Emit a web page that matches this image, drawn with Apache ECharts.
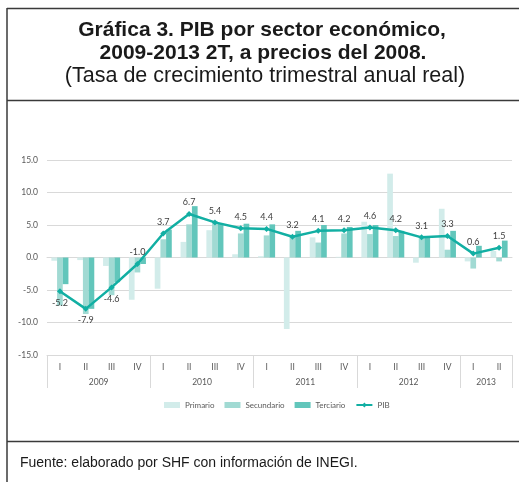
<!DOCTYPE html>
<html><head><meta charset="utf-8">
<script src="https://cdn.jsdelivr.net/npm/echarts@6/dist/echarts.min.js"></script>
<style>html,body{margin:0;padding:0;background:#fff}#c{width:519px;height:482px}</style>
</head><body><div id="c"></div>
<script>
const quarters = ['I','II','III','IV','I','II','III','IV','I','II','III','IV','I','II','III','IV','I','II'];
const years = ['2009','2010','2011','2012','2013'];
const quartersPerYear = [4,4,4,4,2];
const primario   = [-0.5,-0.4,-1.3,-6.5,-4.8,2.4,4.2,0.5,0.2,-11.0,3.1,0.1,5.5,12.9,-0.8,7.5,-0.6,1.0];
const secundario = [-7.4,-8.7,-5.8,-2.3,2.8,5.1,5.6,3.7,3.4,3.3,2.3,3.7,3.6,3.3,3.2,1.2,-1.7,-0.6];
const terciario  = [-4.1,-7.9,-3.8,-1.0,4.3,7.9,5.2,5.2,5.1,4.1,5.0,4.7,5.0,4.1,3.1,4.1,1.8,2.6];
const pib        = [-5.2,-7.9,-4.6,-1.0,3.7,6.7,5.4,4.5,4.4,3.2,4.1,4.2,4.6,4.2,3.1,3.3,0.6,1.5];
const yMin = -15, yMax = 15, yStep = 5;

// year axis built on half-quarter slots
const nSlots = quarters.length * 2;
const yearSlots = new Array(nSlots + 1).fill('');
const yearLabelIdx = new Set(), yearTickIdx = new Set([0, nSlots]);
let cum = 0;
years.forEach((y, i) => {
  const mid = cum * 2 + quartersPerYear[i];
  yearSlots[mid] = y; yearLabelIdx.add(mid);
  yearTickIdx.add(cum * 2);
  cum += quartersPerYear[i];
});

const C = {prim:'#d2ecea', sec:'#a1dad3', ter:'#62c6bb', pib:'#12afa3', grid:'#d9d9d9', txt:'#595959'};
const chart = echarts.init(document.getElementById('c'));
const F = '"Liberation Sans", Arial, sans-serif';
const CF = 'Lato, "Open Sans", sans-serif';

chart.setOption({
  animation: false,
  textStyle: {fontFamily: CF},
  graphic: [
    {type:'line', shape:{x1:7, y1:8.5, x2:519, y2:8.5}, style:{stroke:'#3a3a3a', lineWidth:1.5}},
    {type:'line', shape:{x1:7, y1:8, x2:7, y2:482}, style:{stroke:'#3a3a3a', lineWidth:1.5}},
    {type:'line', shape:{x1:7, y1:100.5, x2:519, y2:100.5}, style:{stroke:'#3a3a3a', lineWidth:1.5}},
    {type:'line', shape:{x1:7, y1:441.5, x2:519, y2:441.5}, style:{stroke:'#3a3a3a', lineWidth:1.5}},
    {type:'text', x:262, y:30, style:{text:'Gráfica 3. PIB por sector económico,', font:'bold 21px '+F, fill:'#1a1a1a', textAlign:'center', textVerticalAlign:'middle'}},
    {type:'text', x:263, y:53, style:{text:'2009-2013 2T, a precios del 2008.', font:'bold 21px '+F, fill:'#1a1a1a', textAlign:'center', textVerticalAlign:'middle'}},
    {type:'text', x:265, y:76, style:{text:'(Tasa de crecimiento trimestral anual real)', font:'21.5px '+F, fill:'#1a1a1a', textAlign:'center', textVerticalAlign:'middle'}},
    {type:'text', x:20, y:463, style:{text:'Fuente: elaborado por SHF con información de INEGI.', font:'14px '+F, fill:'#1a1a1a', textAlign:'left', textVerticalAlign:'middle'}}
  ],
  grid: {left:47, right:7, top:160, bottom:127},
  legend: {
    top: 396, left: 159, itemWidth: 16, itemHeight: 6, itemGap: 10,
    textStyle: {fontSize: 8, color: C.txt, fontFamily: CF},
    data: [
      {name:'Primario', icon:'rect'}, {name:'Secundario', icon:'rect'},
      {name:'Terciario', icon:'rect'}, {name:'PIB'}
    ]
  },
  xAxis: [
    {type:'category', data:quarters, boundaryGap:true, position:'bottom',
     axisLine:{onZero:true, lineStyle:{color:C.grid}}, axisTick:{length:3, lineStyle:{color:C.grid}},
     axisLabel:{show:false}},
    {type:'category', data:quarters, boundaryGap:true, position:'bottom',
     axisLine:{onZero:false, show:true, lineStyle:{color:C.grid}},
     axisTick:{length:17, lineStyle:{color:C.grid}},
     axisLabel:{fontSize:8.5, color:C.txt, margin:8, interval:0}},
    {type:'category', data:yearSlots, boundaryGap:false, position:'bottom',
     axisLine:{onZero:false, show:false},
     axisTick:{length:33, lineStyle:{color:C.grid}, interval:(i)=>yearTickIdx.has(i)},
     axisLabel:{fontSize:8.5, color:C.txt, margin:23, interval:(i)=>yearLabelIdx.has(i)}}
  ],
  yAxis: {
    type:'value', min:yMin, max:yMax, interval:yStep,
    axisLine:{show:false}, axisTick:{show:false},
    axisLabel:{fontSize:8.5, color:C.txt, margin:9, formatter:(v)=>v.toFixed(1)},
    splitLine:{lineStyle:{color:C.grid, width:1}}
  },
  series: [
    {name:'Primario', type:'bar', xAxisIndex:1, data:primario, itemStyle:{color:C.prim}, barGap:'0%', barCategoryGap:'34%'},
    {name:'Secundario', type:'bar', xAxisIndex:1, data:secundario, itemStyle:{color:C.sec}, barGap:'0%', barCategoryGap:'34%'},
    {name:'Terciario', type:'bar', xAxisIndex:1, data:terciario, itemStyle:{color:C.ter}, barGap:'0%', barCategoryGap:'34%'},
    {name:'PIB', type:'line', xAxisIndex:1, symbol:'diamond', symbolSize:6,
     lineStyle:{color:C.pib, width:2.5}, itemStyle:{color:C.pib},
     data: pib.map(v => ({value:v, label:{position: v < -2 ? 'bottom' : 'top'}})),
     label:{show:true, fontSize:9, color:'#404040', distance:4, formatter:(p)=>p.value.toFixed(1)},
     z:5}
  ]
});
</script></body></html>
